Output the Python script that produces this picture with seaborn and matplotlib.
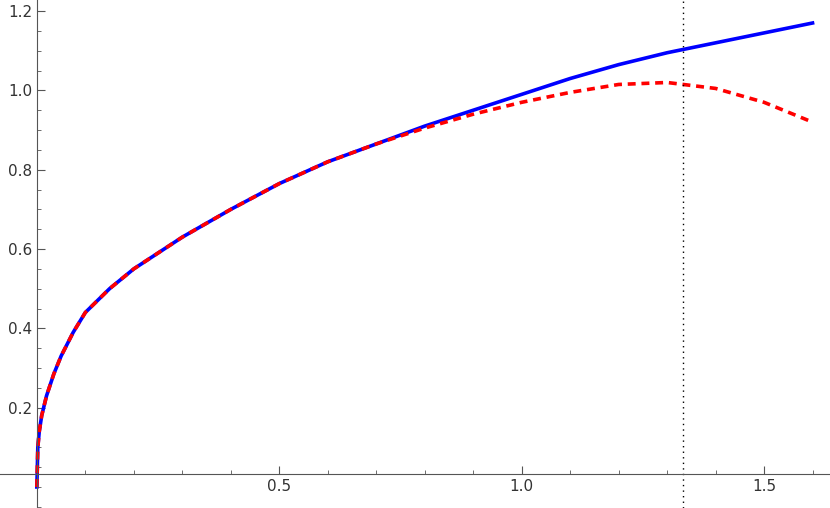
import matplotlib
matplotlib.use("Agg")
import matplotlib.pyplot as plt
import seaborn as sns
import numpy as np
from matplotlib.ticker import MultipleLocator

x_vals = [0.0, 0.002, 0.005, 0.01, 0.02, 0.035, 0.05, 0.075, 0.1, 0.15, 0.2, 0.25, 0.3, 0.4, 0.5, 0.6, 0.7, 0.8,
          0.9, 1.0, 1.1, 1.2, 1.3, 1.4, 1.5, 1.6]
blue_y = [0.0, 0.10, 0.14, 0.18, 0.23, 0.285, 0.33, 0.39, 0.44, 0.50, 0.55, 0.59, 0.63, 0.70, 0.765, 0.82, 0.865,
          0.91, 0.95, 0.99, 1.03, 1.065, 1.095, 1.12, 1.145, 1.17]
red_y = [0.0, 0.10, 0.14, 0.18, 0.23, 0.285, 0.33, 0.39, 0.44, 0.50, 0.55, 0.59, 0.63, 0.70, 0.765, 0.82, 0.865,
         0.905, 0.94, 0.97, 0.995, 1.015, 1.02, 1.005, 0.97, 0.92]
vline_x = 4 / 3

fig = plt.figure(figsize=(8.3, 5.08), dpi=100)
ax = fig.add_axes([0, 0, 1, 1])
sns.lineplot(x=x_vals, y=blue_y, ax=ax, color="#0000ff", lw=2.6, sort=False)
sns.lineplot(x=x_vals, y=red_y, ax=ax, color="#ff0000", lw=2.6, sort=False, dashes=False)
ax.lines[-1].set_linestyle((0, (2.2, 1.6)))
ax.axvline(vline_x, color="black", lw=1, ls=(0, (1, 3)))
ax.set_xlim(-0.076, 1.636)
ax.set_ylim(-0.053, 1.228)
for s in ["top", "right"]:
    ax.spines[s].set_visible(False)
ax.spines["left"].set_position(("data", 0))
ax.spines["bottom"].set_position(("data", 0.033))
for s in ["left", "bottom"]:
    ax.spines[s].set_color("#555555")
ax.set_xticks([0.5, 1.0, 1.5])
ax.set_xticklabels(["0.5", "1.0", "1.5"])
ax.set_yticks([0.2, 0.4, 0.6, 0.8, 1.0, 1.2])
ax.set_yticklabels(["0.2", "0.4", "0.6", "0.8", "1.0", "1.2"])
ax.xaxis.set_minor_locator(MultipleLocator(0.1))
ax.yaxis.set_minor_locator(MultipleLocator(0.05))
ax.tick_params(which="both", direction="in", color="#555555", labelsize=11, labelcolor="#333333")
ax.tick_params(which="major", length=6)
ax.tick_params(which="minor", length=3)
ax.set_facecolor("white")
fig.savefig("out.png", dpi=100)
